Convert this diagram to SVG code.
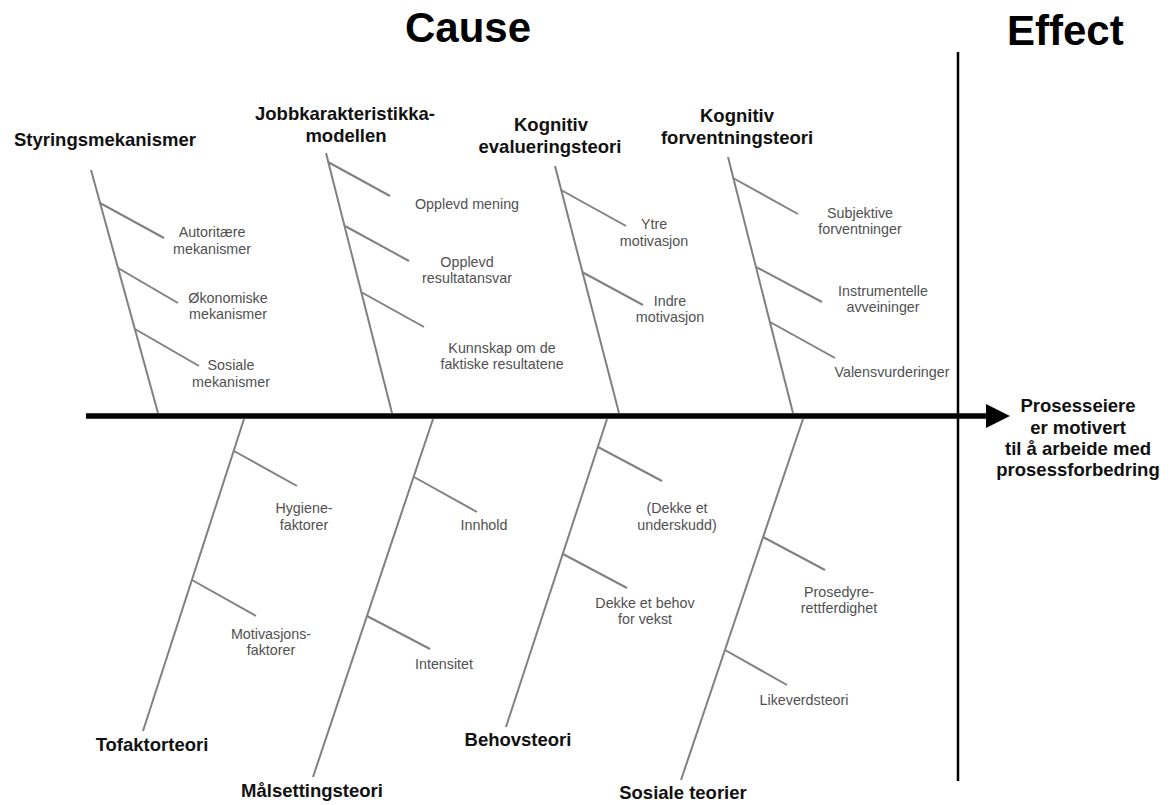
<svg xmlns="http://www.w3.org/2000/svg" width="1175" height="805" viewBox="0 0 1175 805">
  <style>
    .head { font-family: "Liberation Sans", Arial, sans-serif; font-weight: bold; font-size: 42px; fill: #000; }
    .cat { font-family: "Liberation Sans", Arial, sans-serif; font-weight: bold; font-size: 18.5px; fill: #111; text-anchor: middle; }
    .sub { font-family: "Liberation Sans", Arial, sans-serif; font-size: 14.3px; fill: #505050; text-anchor: middle; }
    .bone { stroke: #808080; stroke-width: 2; fill: none; stroke-linecap: butt; }
  </style>

  <rect width="1175" height="805" fill="#ffffff"/>

  <!-- headers -->
  <text class="head" x="405" y="42">Cause</text>
  <text class="head" x="1007" y="45">Effect</text>

  <!-- cause / effect divider -->
  <line x1="958" y1="52" x2="958" y2="781" stroke="#000" stroke-width="2.5"/>

  <!-- spine, bones and twigs -->
  <g id="connectors">
    <line x1="86" y1="416" x2="990" y2="416" stroke="#000" stroke-width="5.5"/>
    <polygon points="986,404 1010,416 986,428" fill="#000"/>

    <!-- upper bones -->
    <line class="bone" x1="91" y1="170" x2="158" y2="413"/>
    <line class="bone" x1="100" y1="203" x2="164" y2="238"/>
    <line class="bone" x1="118" y1="268" x2="178" y2="303"/>
    <line class="bone" x1="135" y1="329" x2="199" y2="366"/>

    <line class="bone" x1="326" y1="153" x2="392" y2="413"/>
    <line class="bone" x1="328" y1="162" x2="390" y2="196"/>
    <line class="bone" x1="345" y1="226" x2="409" y2="261"/>
    <line class="bone" x1="361" y1="292" x2="424" y2="327"/>

    <line class="bone" x1="555" y1="166" x2="619" y2="413"/>
    <line class="bone" x1="561" y1="190" x2="626" y2="226"/>
    <line class="bone" x1="582" y1="272" x2="643" y2="305"/>

    <line class="bone" x1="728" y1="157" x2="793" y2="413"/>
    <line class="bone" x1="733" y1="178" x2="798" y2="214"/>
    <line class="bone" x1="756" y1="267" x2="822" y2="302"/>
    <line class="bone" x1="770" y1="322" x2="835" y2="358"/>

    <!-- lower bones -->
    <line class="bone" x1="244" y1="419" x2="143" y2="731"/>
    <line class="bone" x1="234" y1="451" x2="297" y2="486"/>
    <line class="bone" x1="192" y1="580" x2="256" y2="616"/>

    <line class="bone" x1="433" y1="419" x2="313" y2="777"/>
    <line class="bone" x1="414" y1="477" x2="477" y2="512"/>
    <line class="bone" x1="367" y1="616" x2="430" y2="649"/>

    <line class="bone" x1="607" y1="419" x2="506" y2="727"/>
    <line class="bone" x1="598" y1="447" x2="662" y2="481"/>
    <line class="bone" x1="563" y1="554" x2="627" y2="588"/>

    <line class="bone" x1="803" y1="419" x2="681" y2="780"/>
    <line class="bone" x1="763" y1="537" x2="825" y2="570"/>
    <line class="bone" x1="725" y1="650" x2="787" y2="685"/>
  </g>

  <!-- effect -->
  <g id="effect">
    <text class="cat" x="1078" y="412">Prosesseiere</text>
    <text class="cat" x="1078" y="434">er motivert</text>
    <text class="cat" x="1078" y="455">til å arbeide med</text>
    <text class="cat" x="1078" y="476">prosessforbedring</text>
  </g>

  <!-- upper categories -->
  <g id="styringsmekanismer">
    <text class="cat" x="105" y="146">Styringsmekanismer</text>
  </g>
  <g id="autoritaere">
    <text class="sub" x="212" y="237">Autoritære</text>
    <text class="sub" x="212" y="254">mekanismer</text>
  </g>
  <g id="okonomiske">
    <text class="sub" x="228" y="303">Økonomiske</text>
    <text class="sub" x="228" y="319">mekanismer</text>
  </g>
  <g id="sosiale">
    <text class="sub" x="231" y="370">Sosiale</text>
    <text class="sub" x="231" y="387">mekanismer</text>
  </g>

  <g id="jobbkarakteristikka">
    <text class="cat" x="345" y="120">Jobbkarakteristikka-</text>
    <text class="cat" x="346" y="142">modellen</text>
  </g>
  <g id="opplevd-mening">
    <text class="sub" x="467" y="209">Opplevd mening</text>
  </g>
  <g id="opplevd-resultatansvar">
    <text class="sub" x="467" y="267">Opplevd</text>
    <text class="sub" x="467" y="283">resultatansvar</text>
  </g>
  <g id="kunnskap">
    <text class="sub" x="502" y="353">Kunnskap om de</text>
    <text class="sub" x="502" y="369">faktiske resultatene</text>
  </g>

  <g id="kognitiv-evaluering">
    <text class="cat" x="551" y="131">Kognitiv</text>
    <text class="cat" x="550" y="153">evalueringsteori</text>
  </g>
  <g id="ytre">
    <text class="sub" x="654" y="229">Ytre</text>
    <text class="sub" x="654" y="246">motivasjon</text>
  </g>
  <g id="indre">
    <text class="sub" x="670" y="306">Indre</text>
    <text class="sub" x="670" y="322">motivasjon</text>
  </g>

  <g id="kognitiv-forventning">
    <text class="cat" x="737" y="122">Kognitiv</text>
    <text class="cat" x="737" y="144">forventningsteori</text>
  </g>
  <g id="subjektive">
    <text class="sub" x="860" y="218">Subjektive</text>
    <text class="sub" x="860" y="234">forventninger</text>
  </g>
  <g id="instrumentelle">
    <text class="sub" x="883" y="296">Instrumentelle</text>
    <text class="sub" x="883" y="312">avveininger</text>
  </g>
  <g id="valens">
    <text class="sub" x="892" y="377">Valensvurderinger</text>
  </g>

  <!-- lower categories -->
  <g id="tofaktorteori">
    <text class="cat" x="152" y="751">Tofaktorteori</text>
  </g>
  <g id="hygiene">
    <text class="sub" x="304" y="513">Hygiene-</text>
    <text class="sub" x="304" y="530">faktorer</text>
  </g>
  <g id="motivasjonsfaktorer">
    <text class="sub" x="271" y="639">Motivasjons-</text>
    <text class="sub" x="271" y="655">faktorer</text>
  </g>

  <g id="malsettingsteori">
    <text class="cat" x="312" y="797">Målsettingsteori</text>
  </g>
  <g id="innhold">
    <text class="sub" x="484" y="530">Innhold</text>
  </g>
  <g id="intensitet">
    <text class="sub" x="444" y="669">Intensitet</text>
  </g>

  <g id="behovsteori">
    <text class="cat" x="518" y="746">Behovsteori</text>
  </g>
  <g id="underskudd">
    <text class="sub" x="677" y="513">(Dekke et</text>
    <text class="sub" x="677" y="530">underskudd)</text>
  </g>
  <g id="vekst">
    <text class="sub" x="645" y="608">Dekke et behov</text>
    <text class="sub" x="645" y="624">for vekst</text>
  </g>

  <g id="sosiale-teorier">
    <text class="cat" x="683" y="799">Sosiale teorier</text>
  </g>
  <g id="prosedyre">
    <text class="sub" x="839" y="597">Prosedyre-</text>
    <text class="sub" x="839" y="613">rettferdighet</text>
  </g>
  <g id="likeverd">
    <text class="sub" x="804" y="705">Likeverdsteori</text>
  </g>
</svg>
